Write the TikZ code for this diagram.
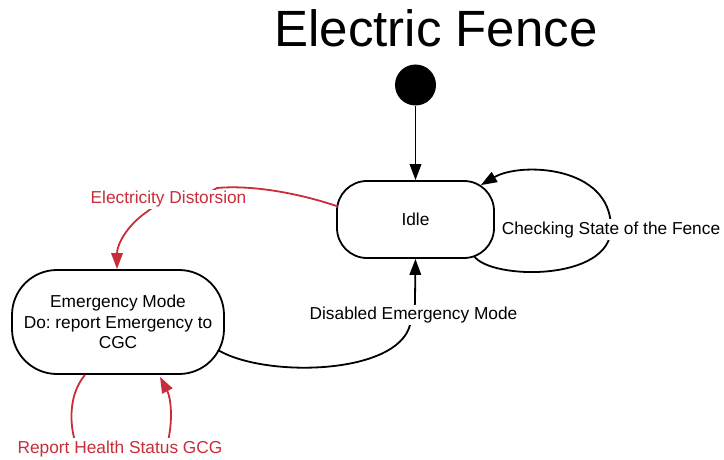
\documentclass[tikz,border=0pt]{standalone}
\usepackage{fontspec}
\setmainfont{Liberation Sans}
\usetikzlibrary{arrows.meta,calc}

\definecolor{flowred}{HTML}{C92D39}

\tikzset{
  state/.style={draw=black, line width=1.8pt, fill=white, align=center,
    font=\fontsize{17.3}{20.3}\selectfont},
  initial dot/.style={circle, fill=black, minimum size=41pt, inner sep=0pt},
  flow/.style={line width=1.8pt, black, -{Triangle[length=16pt,width=11.5pt]}},
  redflow/.style={line width=1.8pt, flowred, -{Triangle[length=16pt,width=11.5pt]}},
  lbl/.style={fill=white, inner xsep=1pt, inner ysep=2pt, anchor=base,
    font=\fontsize{17.3}{20.3}\selectfont},
}

\begin{document}
\frenchspacing
\begin{tikzpicture}[x=1pt, y=1pt]
\useasboundingbox (0,0) rectangle (724,-460);

% title
\node[anchor=base, inner sep=0pt, font=\fontsize{51}{52}\selectfont]
  (title) at (436,-46.7) {Electric Fence};

% states
\node[initial dot] (start) at (415.5,-85) {};
\node[state, minimum width=157pt, minimum height=77pt, rounded corners=30pt]
  (idle) at (415.5,-219.5) {Idle};
\node[state, minimum width=212pt, minimum height=104pt, rounded corners=45pt]
  (emerg) at (118,-322) {Emergency Mode\\Do: report Emergency to\\CGC};

% transitions
\draw[flow] (start) -- (idle);

\draw[flow] ($(idle.south east)+(-21,3)$)
  .. controls (490,-280) and (611,-282) .. (611,-228)
  .. controls (611,-165) and (520,-162) .. ($(idle.north east)+(-14,-5)$);

\draw[redflow] ($(idle.west)+(2,13)$)
  .. controls (295,-192) and (250,-185) .. (217,-188)
  .. controls (200,-200) and (160,-200) .. (148,-211)
  .. controls (126,-226) and (117,-245) .. ($(emerg.north)+(-1,0)$);

\draw[flow] ($(emerg.east)+(-7,-28)$)
  .. controls (265,-378) and (397,-375) .. (410,-325)
  .. controls (413,-315) and (415,-310) .. (415,-300)
  -- (idle.south);

\draw[redflow] ($(emerg.south)+(-33,0)$)
  .. controls (68,-395) and (70,-425) .. (75,-441)
  .. controls (90,-452) and (150,-452) .. (168,-441)
  .. controls (173,-420) and (171,-398) .. ($(emerg.south)+(42,-2)$);

% transition labels
\node[lbl] (check) at (611,-234) {Checking State of the Fence};
\node[lbl, text=flowred, inner ysep=1pt] (distort) at (168.5,-204) {Electricity Distorsion};
\node[lbl] (disable) at (413.5,-319.3) {Disabled Emergency Mode};
\node[lbl, text=flowred] (health) at (120,-453) {Report Health Status GCG};
\end{tikzpicture}
\end{document}
